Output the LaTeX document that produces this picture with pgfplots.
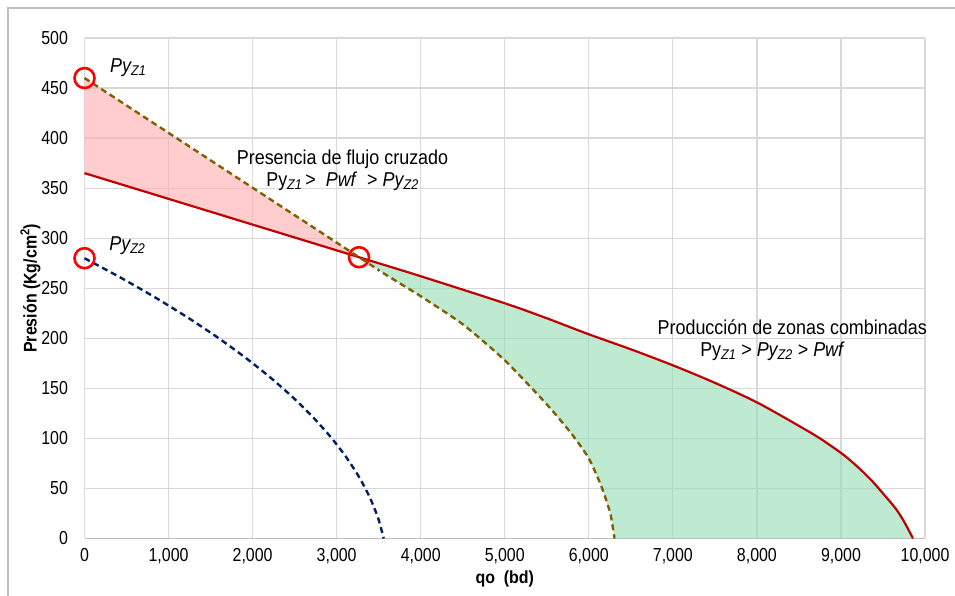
\documentclass[border=0pt]{standalone}
\usepackage{pgfplots}
\pgfplotsset{compat=1.18}
\usepackage{fontspec}
\setmainfont{Liberation Sans}
\definecolor{gridc}{RGB}{217,217,217}
\definecolor{axc}{RGB}{191,191,191}
\definecolor{pwfred}{RGB}{192,0,0}
\definecolor{olive1}{RGB}{127,96,0}
\definecolor{navy1}{RGB}{0,32,96}
\definecolor{greenf}{RGB}{147,220,180}
\definecolor{pinkf}{RGB}{255,172,172}
\begin{document}
\begin{tikzpicture}[x=1bp,y=1bp]
\path[use as bounding box] (0,0) rectangle (955,596);
\draw[axc, line width=1.5bp] (8,0) -- (8,588) -- (955,588);
\begin{axis}[
  at={(84.5bp,57.5bp)}, anchor=origin,
  scale only axis, width=840.5bp, height=500.5bp,
  xmin=0, xmax=10000, ymin=0, ymax=500,
  xtick distance=1000, ytick distance=50,
  scaled x ticks=false, scaled y ticks=false,
  grid=major,
  major grid style={gridc, line width=1.2bp},
  axis x line*=bottom, axis y line*=left,
  x axis line style={axc, line width=1.8bp, -},
  y axis line style={gridc, line width=1.2bp, -},
  major tick length=0pt,
  clip=false,
  tick label style={font=\fontsize{16}{19}\selectfont, yscale=1.18},
  /pgf/number format/assume math mode=true,
  /pgf/number format/.cd, 1000 sep={,},
  /pgfplots/.cd,
  yticklabel style={xshift=-13bp},
  xticklabel style={yshift=-5bp},
  xlabel={\textbf{qo\ \ (bd)}},
  ylabel={\textbf{Presión (Kg/cm\textsuperscript{2})}},
  label style={font=\fontsize{16}{19}\selectfont},
  xlabel style={at={(axis description cs:0.5,0)}, anchor=center, yshift=-40bp, yscale=1.1},
  ylabel style={at={(axis description cs:-0.0643,0.5)}, anchor=center, yscale=1.15},
]
% pink region
\addplot[draw=none, fill=pinkf, fill opacity=0.6] coordinates {(0,460) (3266,281) (0,365)} -- cycle;
% green region
\addplot[draw=none, fill=greenf, fill opacity=0.6] coordinates {
 (3266,281) (4000,262) (5000,235) (5500,220) (6000,204) (6500,189) (7000,173) (7500,155.5) (8000,136)
 (8500,112.5) (8750,100) (9000,85.5) (9125,77) (9250,67.5) (9375,57) (9500,45) (9650,30) (9750,17) (9857,0)
 (6306,0) (6280,14) (6250,27) (6150,52) (6000,80) (5800,104) (5500,134) (5000,178)
 (4500,214) (4000,242) (3750,255) (3500,268)} -- cycle;
% Pwf red
\addplot[pwfred, line width=2.2bp, smooth, tension=0.5] coordinates {
 (0,365) (3266,281) (4000,262) (5000,235) (5500,220) (6000,204) (6500,189) (7000,173) (7500,155.5) (8000,136)
 (8500,112.5) (8750,100) (9000,85.5) (9125,77) (9250,67.5) (9375,57) (9500,45) (9650,30) (9750,17) (9857,0)};
% Py Z1 olive dashed
\addplot[olive1, line width=2.4bp, dash pattern=on 6bp off 4bp, smooth, tension=0.4] coordinates {
 (0,460) (3266,281) (3500,268) (3750,255) (4000,242) (4500,214) (5000,178) (5500,134)
 (5800,104) (6000,80) (6150,52) (6250,27) (6280,14) (6306,0)};
% Py Z2 navy dashed
\addplot[navy1, line width=2.4bp, dash pattern=on 6bp off 4bp, smooth, tension=0.4] coordinates {
 (0,280) (443,260) (857,240) (1242,220) (1598,200) (1925,180) (2223,160) (2492,140)
 (2732,120) (2943,100) (3124,80) (3277,60) (3400,40) (3495,20) (3560,0)};
% circles
\addplot[only marks, mark=o, mark size=10bp, mark options={red, line width=2.6bp}] coordinates {(0,460) (0,280) (3266,281)};
% annotations
\node[font=\fontsize{18}{21}\selectfont\itshape, yscale=1.12] at (axis cs:520,470) {Py\textsubscript{Z1}};
\node[font=\fontsize{18}{21}\selectfont\itshape, yscale=1.12] at (axis cs:510,293) {Py\textsubscript{Z2}};
\node[font=\fontsize{18}{21}\selectfont, align=center, yscale=1.12] at (axis cs:3070,368)
 {Presencia de flujo cruzado\\[-1bp] Py\textsubscript{\itshape Z1}\,>\ \ \textit{Pwf}\ \ > \textit{Py\textsubscript{Z2}}};
\node[font=\fontsize{18}{21}\selectfont, align=center, yscale=1.12] at (axis cs:8420,198)
 {Producción de zonas combinadas\\[-1bp] \hspace*{-2.2em}Py\textsubscript{\itshape Z1} > \textit{Py\textsubscript{Z2}} > \textit{Pwf}};
\end{axis}
\end{tikzpicture}
\end{document}
